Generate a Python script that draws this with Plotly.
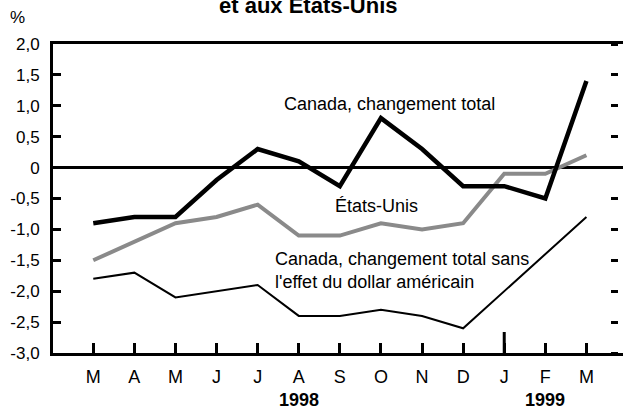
import plotly.graph_objects as go

months = ["M", "A", "M", "J", "J", "A", "S", "O", "N", "D", "J", "F", "M"]
canada_total = [-0.9, -0.8, -0.8, -0.2, 0.3, 0.1, -0.3, 0.8, 0.3, -0.3, -0.3, -0.5, 1.4]
etats_unis = [-1.5, -1.2, -0.9, -0.8, -0.6, -1.1, -1.1, -0.9, -1.0, -0.9, -0.1, -0.1, 0.2]
canada_sans_usd = [-1.8, -1.7, -2.1, -2.0, -1.9, -2.4, -2.4, -2.3, -2.4, -2.6, -2.0, -1.4, -0.8]
y_ticks = [2.0, 1.5, 1.0, 0.5, 0.0, -0.5, -1.0, -1.5, -2.0, -2.5, -3.0]
y_tick_text = ["2,0", "1,5", "1,0", "0,5", "0", "-0,5", "-1,0", "-1,5", "-2,0", "-2,5", "-3,0"]
years = ["1998", "1999"]
year_pos = [5, 11]

xs = list(range(len(months)))
FONT = "Liberation Sans, Arial, sans-serif"

fig = go.Figure()
fig.add_trace(go.Scatter(x=xs, y=canada_sans_usd, mode="lines",
                         line=dict(color="black", width=2), yaxis="y2",
                         showlegend=False, hoverinfo="skip"))
fig.add_trace(go.Scatter(x=xs, y=etats_unis, mode="lines",
                         line=dict(color="#8a8a8a", width=4),
                         showlegend=False, hoverinfo="skip"))
fig.add_trace(go.Scatter(x=xs, y=canada_total, mode="lines",
                         line=dict(color="black", width=4.5),
                         showlegend=False, hoverinfo="skip"))

yr = [-3.0, 2.0]
PW = 570
fig.update_layout(
    width=623, height=411,
    margin=dict(l=53, r=0, t=44, b=58),
    paper_bgcolor="white", plot_bgcolor="white",
    font=dict(family=FONT, size=18, color="black"),
    xaxis=dict(range=[-0.98, 12.89], tickvals=xs, ticktext=months,
               ticks="inside", ticklen=10, tickwidth=3, tickcolor="black",
               showline=True, linewidth=3, linecolor="black", mirror=True,
               showgrid=False, zeroline=False,
               ticklabelstandoff=5, tickfont=dict(size=18)),
    yaxis=dict(range=yr, tickvals=y_ticks, ticktext=y_tick_text,
               ticks="inside", ticklen=8, tickwidth=3, tickcolor="black",
               showline=True, linewidth=3, linecolor="black",
               showgrid=False, zeroline=True, zerolinecolor="black",
               zerolinewidth=2.5, ticklabelstandoff=7, tickfont=dict(size=17)),
    yaxis2=dict(range=yr, overlaying="y", side="right", anchor="free",
                position=1 - 13 / PW, tickvals=y_ticks,
                ticktext=[""] * len(y_ticks),
                ticks="outside", ticklen=7, tickwidth=3, tickcolor="black",
                showticklabels=True, showline=False, showgrid=False,
                zeroline=False),
)

# taller separator tick at January 1999
fig.add_shape(type="line", xref="x", yref="paper", x0=10, x1=10,
              y0=0, y1=21 / 309, line=dict(color="black", width=3))

ann = []
ann.append(dict(text="<b>et aux États-Unis</b>", xref="paper", yref="paper",
                x=(308 - 53) / PW, y=(353 - 6) / 309, xanchor="center",
                yanchor="middle", showarrow=False, font=dict(size=22)))
ann.append(dict(text="%", xref="paper", yref="paper", x=(17 - 53) / PW,
                y=(353 - 17) / 309, xanchor="center", yanchor="middle",
                showarrow=False, font=dict(size=17)))
for yl, xp in zip(years, year_pos):
    ann.append(dict(text="<b>" + yl + "</b>", xref="x", yref="paper", x=xp,
                    y=(353 - 400) / 309, xanchor="center", yanchor="middle",
                    showarrow=False, font=dict(size=18)))
ann.append(dict(text="Canada, changement total", x=7.22, y=1.03, xref="x",
                yref="y", xanchor="center", yanchor="middle", showarrow=False))
ann.append(dict(text="États-Unis", x=6.9, y=-0.62, xref="x", yref="y",
                xanchor="center", yanchor="middle", showarrow=False))
ann.append(dict(text="Canada, changement total sans<br>l'effet du dollar américain",
                x=4.37, y=-1.66, xref="x", yref="y", xanchor="left",
                yanchor="middle", align="left", showarrow=False))
fig.update_layout(annotations=ann)

fig.write_html(
    "out.html",
    config={"displayModeBar": False, "staticPlot": True},
    post_script=("document.body.style.margin='0';"
                 "document.body.style.overflow='hidden';"
                 "document.documentElement.style.overflow='hidden';"),
)
